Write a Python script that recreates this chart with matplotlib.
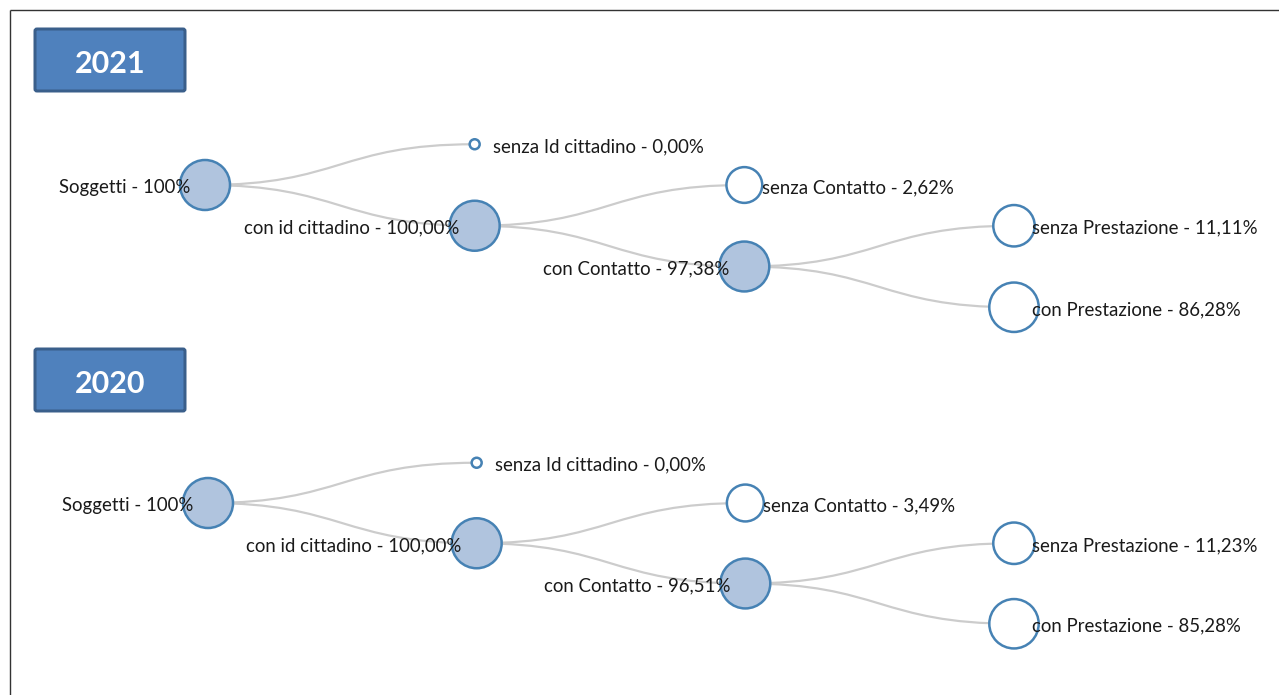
import numpy as np
import matplotlib
matplotlib.use('Agg')
import matplotlib.pyplot as plt
import matplotlib.patches as patches
from matplotlib.path import Path

# tree data, one list per year (parent index -1 = root)
names = ['Soggetti', 'senza Id cittadino', 'con id cittadino', 'senza Contatto',
         'con Contatto', 'senza Prestazione', 'con Prestazione']
parents = [-1, 0, 0, 2, 2, 4, 4]
years = ['2021', '2020']
values_2021 = [100, 0.00, 100.00, 2.62, 97.38, 11.11, 86.28]
values_2020 = [100, 0.00, 100.00, 3.49, 96.51, 11.23, 85.28]
values = {'2021': values_2021, '2020': values_2020}

link_color = '#cccccc'
fill_color = '#b0c4de'
edge_color = '#4682b4'
box_color = '#4f81bd'
box_edge = '#3a5f8b'
text_color = '#1a1a1a'
px = 0.72  # points per pixel at dpi 100

# panel placement (pixels)
panels = {
    '2021': {'box_y': 29, 'root': (205, 185), 'dy': 81.5},
    '2020': {'box_y': 349, 'root': (208, 503), 'dy': 80.5},
}
last_x = 1014

fig = plt.figure(figsize=(12.79, 6.95), dpi=100)
ax = fig.add_axes([0, 0, 1, 1])
ax.set_xlim(0, 1279)
ax.set_ylim(695, 0)
ax.axis('off')

# frame lines
ax.plot([9.5, 9.5], [9.5, 700], color='#333333', linewidth=1.4 * px, solid_capstyle='butt')
ax.plot([9.5, 1290], [9.5, 9.5], color='#333333', linewidth=1.4 * px, solid_capstyle='butt')


def fmt(v, root):
    if root:
        return f'{v:.0f}%'
    return f'{v:.2f}%'.replace('.', ',')


def radius(v):
    if v <= 0:
        return 5.0
    return 16 + 4.5 * np.log10(v)


for year in years:
    p = panels[year]
    vals = values[year]
    x0, y0 = p['root']
    step = (last_x - x0) / 3

    # year box
    box = patches.FancyBboxPatch((35, p['box_y']), 150, 62,
                                 boxstyle='round,pad=0,rounding_size=2',
                                 facecolor=box_color, edgecolor=box_edge,
                                 linewidth=3 * px, zorder=2)
    ax.add_patch(box)
    ax.text(110, p['box_y'] + 35, year, color='white', fontsize=22,
            fontweight='bold', family='Lato', ha='center', va='center', zorder=3)

    # layout: depth -> x, children split +-dy/2 around parent
    pos = [None] * len(names)
    depth = [0] * len(names)
    has_children = [False] * len(names)
    for i, par in enumerate(parents):
        if par < 0:
            pos[i] = (x0, y0)
            continue
        has_children[par] = True
        depth[i] = depth[par] + 1
        sibs = [j for j, q in enumerate(parents) if q == par]
        k = sibs.index(i)
        py = pos[par][1]
        pos[i] = (x0 + depth[i] * step, py + (k - (len(sibs) - 1) / 2) * p['dy'])

    # links
    for i, par in enumerate(parents):
        if par < 0:
            continue
        sx, sy = pos[par]
        tx, ty = pos[i]
        mx = (sx + tx) / 2
        path = Path([(sx, sy), (mx, sy), (mx, ty), (tx, ty)],
                    [Path.MOVETO, Path.CURVE4, Path.CURVE4, Path.CURVE4])
        ax.add_patch(patches.PathPatch(path, facecolor='none', edgecolor=link_color,
                                       linewidth=2.2 * px, zorder=1))

    # nodes and labels
    for i, name in enumerate(names):
        cx, cy = pos[i]
        fc = fill_color if has_children[i] else 'white'
        ax.add_patch(patches.Circle((cx, cy), radius(vals[i]), facecolor=fc,
                                    edgecolor=edge_color, linewidth=2.5 * px, zorder=4))
        label = f'{name} - {fmt(vals[i], parents[i] < 0)}'
        if has_children[i]:
            ax.text(cx - 15, cy + 1, label, ha='right', va='center_baseline', fontsize=13.4,
                    family='Lato', color=text_color, zorder=5)
        else:
            ax.text(cx + 18, cy + 1, label, ha='left', va='center_baseline', fontsize=13.4,
                    family='Lato', color=text_color, zorder=5)

plt.savefig('out.png', dpi=100)
